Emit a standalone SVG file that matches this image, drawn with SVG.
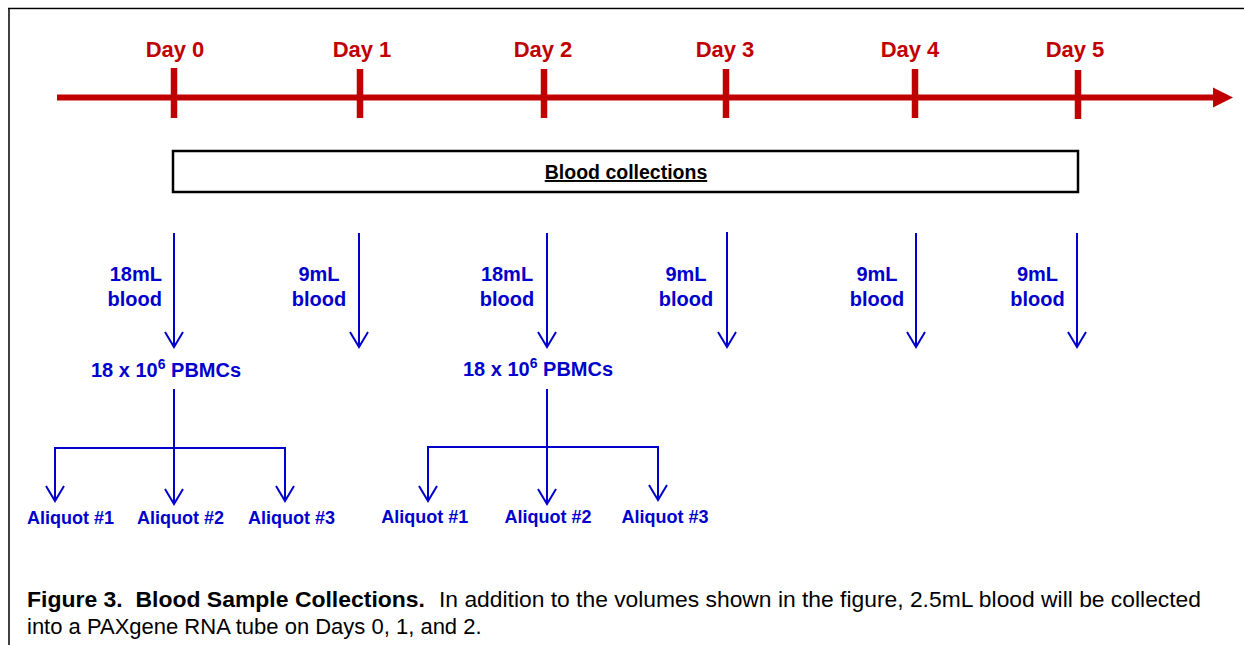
<svg xmlns="http://www.w3.org/2000/svg" width="1244" height="645" viewBox="0 0 1244 645">
<style>
.day{font-family:"Liberation Sans",Arial,sans-serif;font-weight:bold;font-size:22px;fill:#C00000;text-anchor:middle}
.tick{stroke:#C00000;stroke-width:6.5}
.lbl{font-family:"Liberation Sans",Arial,sans-serif;font-weight:bold;font-size:20px;fill:#0000CC;text-anchor:middle}
.ali{font-family:"Liberation Sans",Arial,sans-serif;font-weight:bold;font-size:18px;fill:#0000CC;text-anchor:middle}
.bl{stroke:#0000CC;stroke-width:2;fill:none}
.cap{font-family:"Liberation Sans",Arial,sans-serif;font-size:22px;fill:#000}
</style>
<rect width="1244" height="645" fill="#fff"/>
<g id="frame">
<line x1="8" y1="8.5" x2="1244" y2="8.5" stroke="#000" stroke-width="1.5"/>
<line x1="8" y1="9.5" x2="1244" y2="9.5" stroke="#ccc" stroke-width="1"/>
<line x1="9" y1="8" x2="9" y2="645" stroke="#000" stroke-width="1.5"/>
</g>
<g id="timeline">
<line x1="57" y1="97.5" x2="1216" y2="97.5" stroke="#C00000" stroke-width="6"/>
<polygon points="1213,87.5 1233,97.5 1213,107.5" fill="#C00000"/>
<line class="tick" x1="174" y1="68" x2="174" y2="118"/>
<line class="tick" x1="360" y1="69" x2="360" y2="118"/>
<line class="tick" x1="544" y1="69" x2="544" y2="118"/>
<line class="tick" x1="726" y1="69" x2="726" y2="118"/>
<line class="tick" x1="915" y1="69" x2="915" y2="118"/>
<line class="tick" x1="1078" y1="70" x2="1078" y2="119"/>
<text class="day" x="175" y="57">Day 0</text>
<text class="day" x="362" y="57">Day 1</text>
<text class="day" x="543" y="57">Day 2</text>
<text class="day" x="725" y="57">Day 3</text>
<text class="day" x="910" y="57">Day 4</text>
<text class="day" x="1075" y="57">Day 5</text>
</g>
<g id="blood-collections">
<rect x="173" y="151" width="905" height="41" fill="#fff" stroke="#000" stroke-width="2.5"/>
<text x="626" y="179" font-family="Liberation Sans, Arial, sans-serif" font-weight="bold" font-size="19.5" text-anchor="middle" text-decoration="underline">Blood collections</text>
</g>
<g id="connectors">
<g class="bl">
<line x1="174" y1="233" x2="174" y2="347"/><polyline points="165,332 174,347 183,332"/>
<line x1="359" y1="233" x2="359" y2="347"/><polyline points="350,332 359,347 368,332"/>
<line x1="547" y1="233" x2="547" y2="347"/><polyline points="538,332 547,347 556,332"/>
<line x1="727" y1="232" x2="727" y2="347"/><polyline points="718,332 727,347 736,332"/>
<line x1="916" y1="233" x2="916" y2="347"/><polyline points="907,332 916,347 925,332"/>
<line x1="1077" y1="233" x2="1077" y2="347"/><polyline points="1068,332 1077,347 1086,332"/>
<line x1="174" y1="389" x2="174" y2="504"/>
<polyline points="55,501 55,448 285,448 285,501"/>
<polyline points="46,486 55,501 64,486"/>
<polyline points="165,489 174,504 183,489"/>
<polyline points="276,486 285,501 294,486"/>
<line x1="547" y1="389" x2="547" y2="504"/>
<polyline points="428,501 428,447 658,447 658,500"/>
<polyline points="419,486 428,501 437,486"/>
<polyline points="538,489 547,504 556,489"/>
<polyline points="649,485 658,500 667,485"/>
</g>
</g>
<g id="volumes">
<text class="lbl" x="162" y="281" style="text-anchor:end">18mL</text>
<text class="lbl" x="162" y="306" style="text-anchor:end">blood</text>
<text class="lbl" x="319" y="281">9mL</text>
<text class="lbl" x="319" y="306">blood</text>
<text class="lbl" x="507" y="281">18mL</text>
<text class="lbl" x="507" y="306">blood</text>
<text class="lbl" x="686" y="281">9mL</text>
<text class="lbl" x="686" y="306">blood</text>
<text class="lbl" x="877" y="281">9mL</text>
<text class="lbl" x="877" y="306">blood</text>
<text class="lbl" x="1037.5" y="281">9mL</text>
<text class="lbl" x="1037.5" y="306">blood</text>
</g>
<g id="pbmc-1">
<text class="lbl" x="91" y="377" style="text-anchor:start">18 x 10<tspan font-size="14" dy="-8">6</tspan><tspan dy="8"> PBMCs</tspan></text>
</g>
<g id="pbmc-2">
<text class="lbl" x="463" y="376" style="text-anchor:start">18 x 10<tspan font-size="14" dy="-8">6</tspan><tspan dy="8"> PBMCs</tspan></text>
</g>
<g id="aliquots-1">
<text class="ali" x="70.5" y="524">Aliquot #1</text>
<text class="ali" x="180.5" y="524">Aliquot #2</text>
<text class="ali" x="291.5" y="524">Aliquot #3</text>
</g>
<g id="aliquots-2">
<text class="ali" x="424.7" y="523">Aliquot #1</text>
<text class="ali" x="548" y="523">Aliquot #2</text>
<text class="ali" x="665" y="523">Aliquot #3</text>
</g>
<g id="caption">
<text class="cap" x="27" y="607" font-weight="bold" textLength="398" lengthAdjust="spacingAndGlyphs" xml:space="preserve">Figure 3.  Blood Sample Collections.</text>
<text class="cap" x="439" y="607" textLength="762" lengthAdjust="spacingAndGlyphs">In addition to the volumes shown in the figure, 2.5mL blood will be collected</text>
<text class="cap" x="27" y="634">into a PAXgene RNA tube on Days 0, 1, and 2.</text>
</g>
</svg>
